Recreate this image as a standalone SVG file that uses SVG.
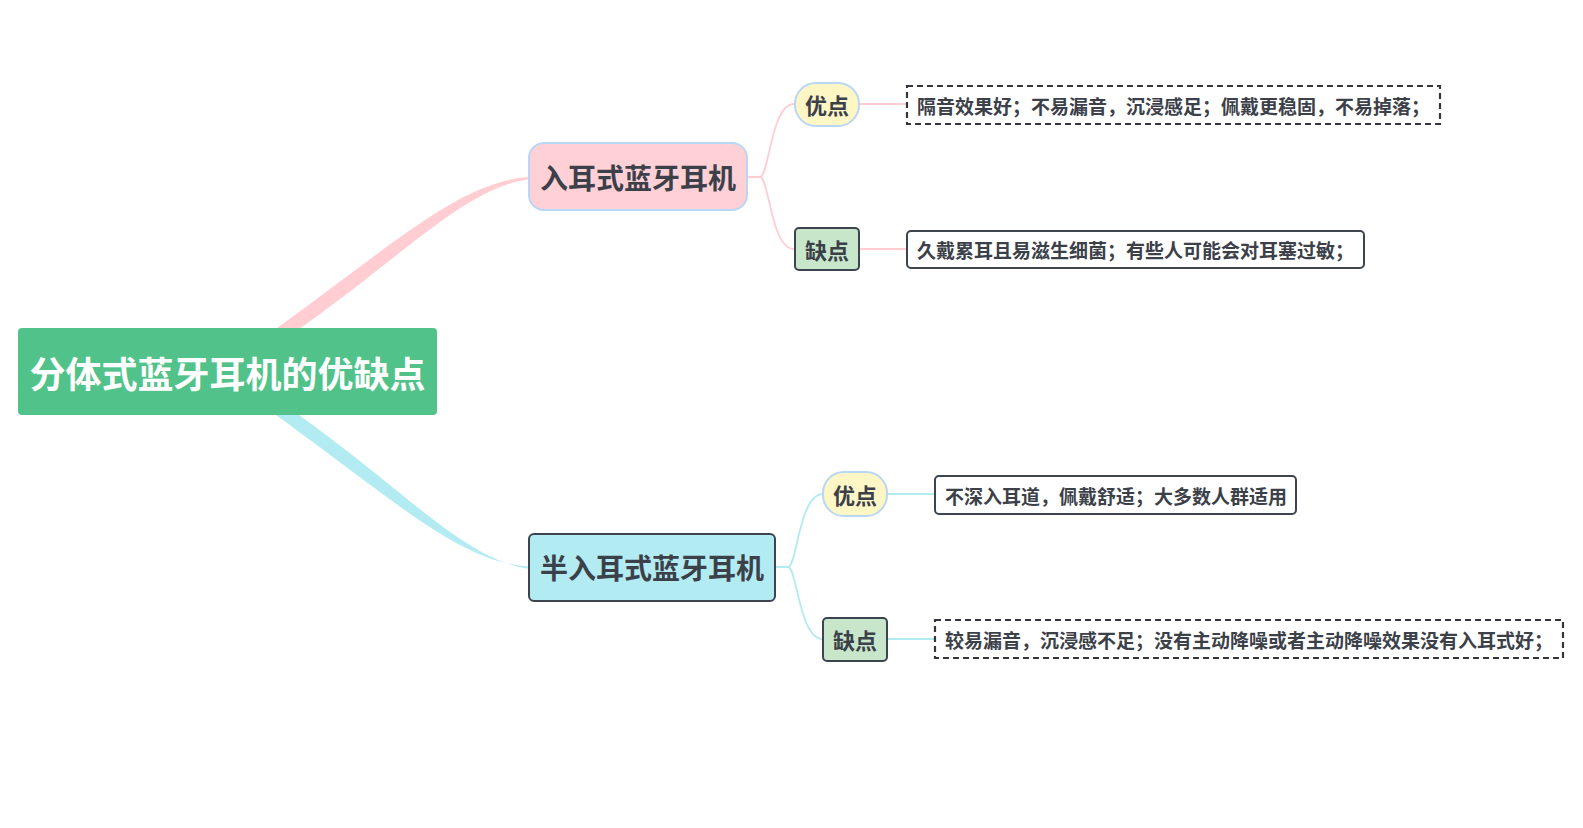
<svg xmlns="http://www.w3.org/2000/svg" width="1583" height="828" viewBox="0 0 1583 828">
<style>
text{font-family:"Noto Sans CJK SC","Liberation Sans",sans-serif;font-weight:bold;fill:#3b4049;dominant-baseline:central}
.root{fill:#fff;font-size:36px}
.main{font-size:28px}
.tag{font-size:22px}
.det{font-size:19px}
.pinkc{fill:none;stroke:#ffcdd2;stroke-width:1.8}
.cyanc{fill:none;stroke:#b2ebf2;stroke-width:1.8}
.solid{fill:#fff;stroke:#3d4450;stroke-width:2}
.dash{fill:#fff;stroke:#33373d;stroke-width:2.2;stroke-dasharray:6 4}
.good{fill:#fff6c6;stroke:#b8d6f6;stroke-width:2}
.bad{fill:#c8e6c9;stroke:#3d4450;stroke-width:2}
</style>
<rect width="1583" height="828" fill="#fff"/>
<g id="connectors">
<path d="M224 365 C374 264 450 182 529 177 L529 179.2 C453 190 386 279 224 379 Z" fill="#ffcdd2"/>
<path d="M224 379 C374 480 450 562 529 566.5 L529 568.7 C453 558 386 465 224 365 Z" fill="#b2ebf2"/>
<path class="pinkc" d="M748 177 L760 177 C769 177 771 104 794 104"/>
<path class="pinkc" d="M760 177 C769 177 771 249 794 249"/>
<path class="pinkc" d="M859 104 L907 104"/>
<path class="pinkc" d="M859 249 L907 249"/>
<path class="cyanc" d="M775 567 L788 567 C797 567 799 494 823 494"/>
<path class="cyanc" d="M788 567 C797 567 799 639 823 639"/>
<path class="cyanc" d="M887 494 L935 494"/>
<path class="cyanc" d="M887 639 L935 639"/>
</g>
<g id="root">
<rect x="18" y="328" width="419" height="87" rx="4" fill="#51c38a"/>
<text class="root" x="227.5" y="372" text-anchor="middle">分体式蓝牙耳机的优缺点</text>
</g>
<g id="inear">
<rect x="529" y="143" width="218" height="67" rx="15" fill="#ffd0d5" stroke="#b8d6f6" stroke-width="2"/>
<text class="main" x="638" y="177" text-anchor="middle">入耳式蓝牙耳机</text>
</g>
<g id="inear-pro">
<rect class="good" x="795" y="83" width="64" height="43" rx="21"/>
<text class="tag" x="827" y="104" text-anchor="middle">优点</text>
</g>
<g id="inear-con">
<rect class="bad" x="795" y="228" width="64" height="42" rx="4"/>
<text class="tag" x="827" y="249" text-anchor="middle">缺点</text>
</g>
<g id="inear-pro-detail">
<rect class="dash" x="907" y="86" width="533" height="38"/>
<text class="det" x="917" y="105">隔音效果好；不易漏音，沉浸感足；佩戴更稳固，不易掉落；</text>
</g>
<g id="inear-con-detail">
<rect class="solid" x="907" y="231" width="457" height="37" rx="4"/>
<text class="det" x="917" y="249.5">久戴累耳且易滋生细菌；有些人可能会对耳塞过敏；</text>
</g>
<g id="halfin">
<rect x="529" y="534" width="246" height="67" rx="5" fill="#b2ebf2" stroke="#3d4450" stroke-width="2"/>
<text class="main" x="652" y="567" text-anchor="middle">半入耳式蓝牙耳机</text>
</g>
<g id="halfin-pro">
<rect class="good" x="823" y="472" width="64" height="44" rx="21"/>
<text class="tag" x="855" y="494" text-anchor="middle">优点</text>
</g>
<g id="halfin-con">
<rect class="bad" x="823" y="618" width="64" height="43" rx="4"/>
<text class="tag" x="855" y="639" text-anchor="middle">缺点</text>
</g>
<g id="halfin-pro-detail">
<rect class="solid" x="935" y="476" width="361" height="38" rx="4"/>
<text class="det" x="945" y="495">不深入耳道，佩戴舒适；大多数人群适用</text>
</g>
<g id="halfin-con-detail">
<rect class="dash" x="935" y="620" width="628" height="38"/>
<text class="det" x="945" y="639">较易漏音，沉浸感不足；没有主动降噪或者主动降噪效果没有入耳式好；</text>
</g>
</svg>
